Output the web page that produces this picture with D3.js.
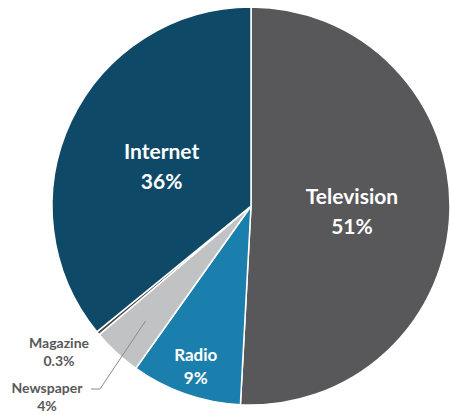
<!DOCTYPE html>
<html>
<head>
<meta charset="utf-8">
<script src="https://cdn.jsdelivr.net/npm/d3@7"></script>
<style>
  body { margin: 0; background: #fff; }
  text { font-family: Lato, "Open Sans", sans-serif; }
</style>
</head>
<body>
<div id="chart"></div>
<script>
(function() {
    const width = 450;
    const height = 414;

    const media = ['Television', 'Radio', 'Newspaper', 'Magazine', 'Internet'];
    const shares = [51, 9, 4, 0.3, 36];
    const shareLabels = ['51%', '9%', '4%', '0.3%', '36%'];
    const colors = ['#58585a', '#1b7fad', '#c1c2c4', '#4a4a4a', '#0e4a67'];

    const cx = 251, cy = 206, radius = 199;

    const data = media.map((m, i) => ({name: m, value: shares[i], label: shareLabels[i], color: colors[i]}));

    const pie = d3.pie().sort(null).value(d => d.value);
    const arc = d3.arc().innerRadius(0).outerRadius(radius);

    const svg = d3.select('#chart')
        .append('svg')
        .attr('width', width)
        .attr('height', height);

    const g = svg.append('g')
        .attr('transform', `translate(${cx},${cy})`);

    const arcs = pie(data);

    g.selectAll('path')
        .data(arcs)
        .enter()
        .append('path')
        .attr('d', arc)
        .attr('fill', d => d.data.color)
        .attr('stroke', '#fff')
        .attr('stroke-width', 1.5)
        .attr('stroke-linejoin', 'round');

    // labels inside the big slices
    const inside = {
        Television: {r: 101, size: 21, gap: 30},
        Internet: {r: 99, size: 21, gap: 30},
        Radio: {r: 168, size: 17, gap: 23}
    };

    arcs.filter(d => inside[d.data.name]).forEach(d => {
        const cfg = inside[d.data.name];
        const [x, y] = d3.arc().innerRadius(cfg.r).outerRadius(cfg.r).centroid(d);
        const t = g.append('text')
            .attr('text-anchor', 'middle')
            .attr('fill', '#fff')
            .attr('font-weight', 700)
            .attr('font-size', cfg.size + 'px');
        t.append('tspan').attr('x', x).attr('y', y - cfg.gap * 0.15).text(d.data.name);
        t.append('tspan').attr('x', x).attr('y', y + cfg.gap * 0.85).text(d.data.label);
    });

    // outside labels for the small slices
    const mag = arcs[3];
    const news = arcs[2];

    const outside = [
        {d: mag, x: 59 - cx, y: 348 - cy},
        {d: news, x: 47 - cx, y: 393 - cy}
    ];

    outside.forEach(o => {
        const t = g.append('text')
            .attr('text-anchor', 'middle')
            .attr('fill', '#58585a')
            .attr('font-weight', 700)
            .attr('font-size', '14px');
        t.append('tspan').attr('x', o.x).attr('y', o.y).text(o.d.data.name);
        t.append('tspan').attr('x', o.x).attr('y', o.y + 18).text(o.d.data.label);
    });

    // leader line for Newspaper
    const inner = d3.arc().innerRadius(radius - 43).outerRadius(radius - 43).centroid(news);
    g.append('polyline')
        .attr('points', [[91 - cx, 389 - cy], [100 - cx, 389 - cy], inner].map(p => p.join(',')).join(' '))
        .attr('fill', 'none')
        .attr('stroke', '#8a8a8a')
        .attr('stroke-width', 1);
})();
</script>
</body>
</html>
